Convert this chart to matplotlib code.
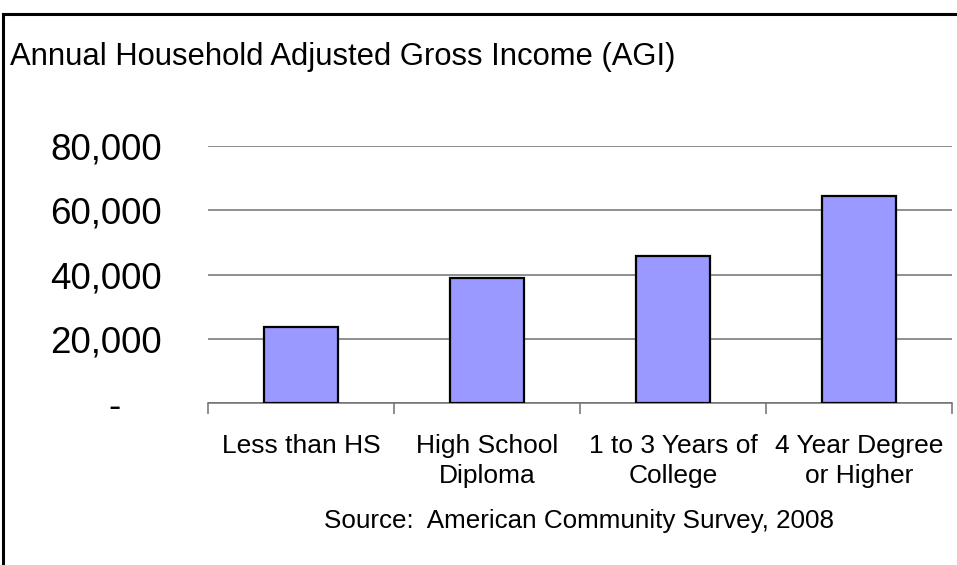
import matplotlib
matplotlib.use("Agg")
import matplotlib.pyplot as plt
from matplotlib.lines import Line2D

plt.rcParams["font.family"] = ["Liberation Sans", "DejaVu Sans"]

# Household AGI by education level (ACS 2008)
categories = [
    "Less than HS",
    "High School\nDiploma",
    "1 to 3 Years of\nCollege",
    "4 Year Degree\nor Higher",
]
agi_values = [23700, 39100, 45800, 64500]
y_ticks = [0, 20000, 40000, 60000, 80000]
y_tick_labels = ["-    ", "20,000", "40,000", "60,000", "80,000"]

fig = plt.figure(figsize=(9.57, 5.65), dpi=100)
ax = fig.add_axes([0.2173, 0.2862, 0.7775, 0.4554])

x = range(len(categories))
ax.bar(x, agi_values, width=0.4, color="#9999FF", edgecolor="black",
       linewidth=1.6, zorder=3)

ax.set_xlim(-0.5, len(categories) - 0.5)
ax.set_ylim(0, 80000)
ax.set_yticks(y_ticks)
ax.set_yticklabels(y_tick_labels, fontsize=26.5)
ax.tick_params(axis="y", length=0, pad=33)
ax.yaxis.grid(True, color="#707070", linewidth=1.1, zorder=0)

# category boundaries get the tick marks, labels sit under the bars
ax.set_xticks([i - 0.5 for i in range(len(categories) + 1)])
ax.set_xticklabels([])
ax.set_xticks(list(x), minor=True)
ax.set_xticklabels(categories, minor=True, fontsize=19, linespacing=1.3)
ax.tick_params(axis="x", which="major", length=8, width=1.1, color="#707070",
               direction="out")
ax.tick_params(axis="x", which="minor", length=0, pad=22)

for side in ["left", "right", "top"]:
    ax.spines[side].set_visible(False)
ax.spines["bottom"].set_color("#707070")
ax.spines["bottom"].set_linewidth(1.1)

fig.text(10 / 957, 1 - 65 / 565, "Annual Household Adjusted Gross Income (AGI)",
         fontsize=22.3, ha="left", va="baseline")
fig.text(579 / 957, 1 - 528 / 565, "Source:  American Community Survey, 2008",
         fontsize=18.7, ha="center", va="baseline")

# outer chart frame, open on the right and bottom edges
fig.add_artist(Line2D([3 / 957, 3 / 957], [0, 1 - 14 / 565],
                      transform=fig.transFigure, color="black", linewidth=2.2))
fig.add_artist(Line2D([3 / 957, 1], [1 - 14 / 565, 1 - 14 / 565],
                      transform=fig.transFigure, color="black", linewidth=2.2))

fig.savefig("out.png", dpi=100)
